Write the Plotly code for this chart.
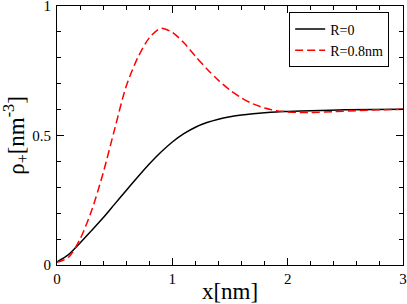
import plotly.graph_objects as go

x_r0 = [0, 0.1, 0.2, 0.3, 0.4, 0.5, 0.6, 0.7, 0.8, 0.9, 1.0, 1.1, 1.2, 1.3, 1.4, 1.5, 1.6, 1.7, 1.8, 1.9, 2.0, 2.2, 2.5, 3.0]
y_r0 = [0.012, 0.04, 0.085, 0.133, 0.182, 0.235, 0.288, 0.34, 0.39, 0.435, 0.475, 0.507, 0.532, 0.55, 0.563, 0.572, 0.579, 0.584, 0.588, 0.591, 0.593, 0.596, 0.599, 0.601]

x_r08 = [0, 0.1, 0.2, 0.3, 0.4, 0.5, 0.6, 0.7, 0.8, 0.9, 1.0, 1.1, 1.2, 1.3, 1.4, 1.5, 1.6, 1.7, 1.8, 1.9, 2.0, 2.1, 2.2, 2.4, 2.6, 2.8, 3.0]
y_r08 = [0.01, 0.03, 0.1, 0.21, 0.355, 0.525, 0.69, 0.80, 0.877, 0.914, 0.898, 0.858, 0.806, 0.757, 0.713, 0.675, 0.645, 0.622, 0.606, 0.596, 0.591, 0.589, 0.589, 0.592, 0.596, 0.599, 0.601]

x_ticks = [0, 1, 2, 3]
x_tick_labels = ["0", "1", "2", "3"]
y_ticks = [0, 0.5, 1]
y_tick_labels = ["0", "0.5", "1"]

font = "Liberation Serif"

fig = go.Figure()
fig.add_trace(go.Scatter(x=x_r0, y=y_r0, mode="lines", name="R=0",
                         line=dict(color="black", width=1.5, shape="spline", smoothing=0.8)))
fig.add_trace(go.Scatter(x=x_r08, y=y_r08, mode="lines", name="R=0.8nm",
                         line=dict(color="#ff0000", width=1.5, dash="8px,4px", shape="spline", smoothing=0.8)))

axis_common = dict(showline=True, linecolor="black", linewidth=1.2, mirror="allticks",
                   ticks="inside", ticklen=7, tickcolor="black", tickwidth=1,
                   showgrid=False, zeroline=False, automargin=False,
                   ticklabeloverflow="allow",
                   tickfont=dict(family=font, size=15, color="black"))

fig.update_xaxes(range=[0, 3], tickvals=x_ticks, ticktext=x_tick_labels, ticklabelstandoff=0,
                 minor=dict(dtick=0.2, ticks="inside", ticklen=4, tickcolor="black", showgrid=False),
                 title=dict(text="x[nm]", font=dict(family=font, size=23, color="black"), standoff=0),
                 **axis_common)
fig.update_yaxes(range=[0, 1], tickvals=y_ticks, ticktext=y_tick_labels, ticklabelstandoff=2,
                 minor=dict(dtick=0.1, ticks="inside", ticklen=4, tickcolor="black", showgrid=False),
                 title=dict(text="ρ<sub>+</sub>[nm<sup>-3</sup>]", font=dict(family=font, size=23, color="black"), standoff=4),
                 **axis_common)

fig.update_layout(
    width=407, height=304,
    margin=dict(l=57, r=4, t=6, b=39),
    plot_bgcolor="white", paper_bgcolor="white",
    showlegend=True,
    legend=dict(x=0.96, y=0.975, xanchor="right", yanchor="top",
                bordercolor="black", borderwidth=1, bgcolor="white",
                font=dict(family=font, size=14, color="black"),
                itemwidth=30, tracegroupgap=0),
)

fig.write_html("out.html", config={"displayModeBar": False},
               post_script="document.body.style.margin='0';document.body.style.overflow='hidden';")
